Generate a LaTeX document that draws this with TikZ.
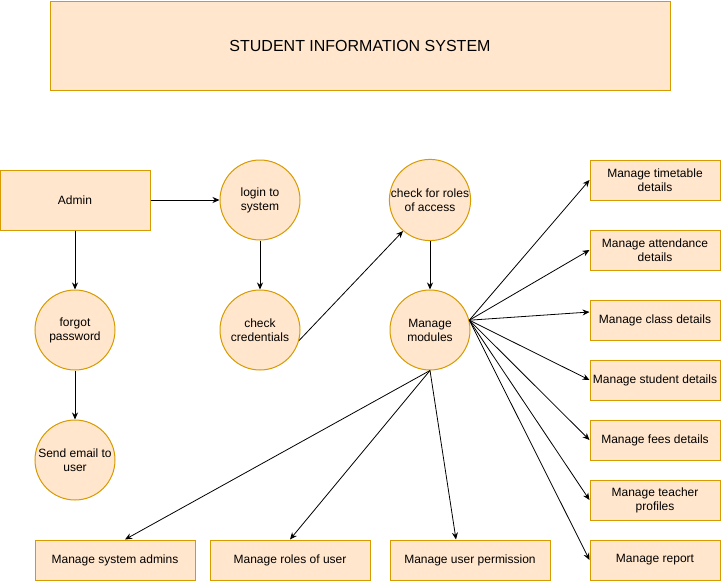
\documentclass[tikz,border=0pt]{standalone}
\usepackage{fontspec}
\setmainfont{Liberation Sans}
\usetikzlibrary{arrows.meta}
\definecolor{boxfill}{HTML}{FFE6CC}
\definecolor{boxline}{HTML}{D79B00}

\begin{document}
\begin{tikzpicture}[x=1pt,y=-1pt,font=\fontsize{12}{14}\selectfont,
  procbox/.style={draw=boxline,fill=boxfill,line width=1pt,inner sep=0pt,align=center,minimum height=40pt},
  proc/.style={circle,draw=boxline,fill=boxfill,line width=1pt,minimum size=80pt,inner sep=0pt,align=center},
  flow/.style={-{Stealth[length=7pt,width=6pt]},line width=0.8pt}]
  \useasboundingbox (0,0) rectangle (721,581);
  % title
  \node[procbox,minimum width=620pt,minimum height=89pt,font=\fontsize{16}{18}\selectfont] (title) at (360,45.5) {STUDENT INFORMATION SYSTEM};
  % login part
  \node[procbox,minimum width=150pt,minimum height=60pt] (admin) at (75,200) {Admin};
  \node[proc] (login) at (260,200) {login to\\system};
  \node[proc] (chk) at (260,330) {check\\credentials};
  \node[proc] (forgot) at (75,330) {forgot\\password};
  \node[proc] (email) at (75,460) {Send email to\\user};
  \node[proc] (roles) at (430,200) {check for roles\\of access};
  \node[proc] (modules) at (430,330) {Manage\\modules};
  % modules
  \node[procbox,minimum width=130pt] (timetable) at (655,180) {Manage timetable\\details};
  \node[procbox,minimum width=130pt] (attend) at (655,250) {Manage attendance\\details};
  \node[procbox,minimum width=130pt] (class) at (655,320) {Manage class details};
  \node[procbox,minimum width=130pt] (student) at (655,380) {Manage student details};
  \node[procbox,minimum width=130pt] (fees) at (655,440) {Manage fees details};
  \node[procbox,minimum width=130pt] (teacher) at (655,500) {Manage teacher\\profiles};
  \node[procbox,minimum width=130pt] (report) at (655,560) {Manage report};
  \node[procbox,minimum width=160pt] (sysadm) at (115,560) {Manage system admins};
  \node[procbox,minimum width=160pt] (usrroles) at (290,560) {Manage roles of user};
  \node[procbox,minimum width=160pt] (perm) at (470,560) {Manage user permission};

  \draw[flow] (admin) -- (login);
  \draw[flow] (admin) -- (forgot);
  \draw[flow] (forgot) -- (email);
  \draw[flow] (login) -- (chk);
  \draw[flow] (chk.345) -- (roles.229);
  \draw[flow] (roles) -- (modules);
  \coordinate (fan) at (modules.14);
  \foreach \m in {timetable,attend,student,fees,teacher,report}
    \draw[flow] (fan) -- (\m.west);
  \draw[flow] (fan) -- ([yshift=8pt]class.west);
  \draw[flow] (modules.south) -- ([xshift=10pt]sysadm.north);
  \draw[flow] (modules.south) -- (usrroles.north);
  \draw[flow] (modules.south) -- ([xshift=-14pt]perm.north);
\end{tikzpicture}
\end{document}
